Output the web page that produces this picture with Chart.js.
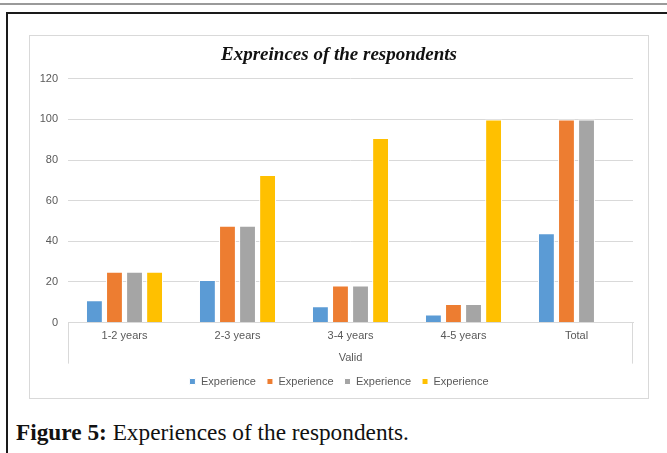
<!DOCTYPE html>
<html>
<head>
<meta charset="utf-8">
<script src="https://cdn.jsdelivr.net/npm/chart.js@4"></script>
<style>
  html, body { margin: 0; padding: 0; background: #fff; width: 667px; height: 453px; overflow: hidden; }
  .rule { position: absolute; left: 0; top: 3px; width: 667px; height: 2px; background: #9a9a9a; }
  .frame { position: absolute; left: 6px; top: 12px; width: 700px; height: 500px; border: 2px solid #1a1a1a; box-sizing: border-box; }
  .chartbox { position: absolute; left: 29px; top: 35px; width: 620px; height: 364px; border: 1px solid #d9d9d9; box-sizing: border-box; }
  .chartbox canvas { position: absolute; left: 0; top: 0; }
  .caption { position: absolute; left: 16px; top: 419px; font-family: "Liberation Serif", "DejaVu Serif", serif; font-size: 23.3px; color: #111; white-space: nowrap; }
  .caption b { font-weight: bold; }
</style>
</head>
<body>
<div class="rule"></div>
<div class="frame"></div>
<div class="chartbox"><canvas id="c" width="618" height="362"></canvas></div>
<div class="caption"><b>Figure 5:</b> Experiences of the respondents.</div>
<script>
// Experience groups and the four measures reported for each
const categories = ["1-2 years", "2-3 years", "3-4 years", "4-5 years", "Total"];
const frequency = [11, 21, 8, 4, 44];
const percent = [25, 47.7, 18.2, 9.1, 100];
const validPercent = [25, 47.7, 18.2, 9.1, 100];
const cumulativePercent = [25, 72.7, 90.9, 100, null];
const seriesNames = ["Experience", "Experience", "Experience", "Experience"];
const yTicks = [0, 20, 40, 60, 80, 100, 120];

const colors = ["#5B9BD5", "#ED7D31", "#A5A5A5", "#FFC000"];
const seriesValues = [frequency, percent, validPercent, cumulativePercent];
const axisFont = { family: "Liberation Sans", size: 11 };

// Outer ticks of the category axis: vertical lines at both ends below the plot
const axisBoxPlugin = {
  id: "axisBox",
  afterDraw(chart) {
    const { ctx, chartArea } = chart;
    ctx.save();
    ctx.strokeStyle = "#d9d9d9";
    ctx.lineWidth = 1;
    ctx.beginPath();
    const l = Math.round(chartArea.left) + 0.5, r = Math.round(chartArea.right) - 0.5;
    const b = chartArea.bottom, d = b + 41;
    ctx.moveTo(l, b); ctx.lineTo(l, d);
    ctx.moveTo(r, b); ctx.lineTo(r, d);
    ctx.stroke();
    ctx.restore();
  }
};

new Chart(document.getElementById("c"), {
  type: "bar",
  data: {
    labels: categories,
    datasets: seriesValues.map((vals, i) => ({
      label: seriesNames[i],
      data: vals,
      backgroundColor: colors[i],
      borderColor: "#ffffff",
      borderWidth: 1,
      categoryPercentage: 0.71,
      barPercentage: 0.84
    }))
  },
  options: {
    responsive: false,
    animation: false,
    layout: { padding: { left: 0, right: 0, top: 6, bottom: 1 } },
    plugins: {
      title: {
        display: true,
        text: "Expreinces of the respondents",
        font: { family: "Liberation Serif", size: 19, weight: "bold", style: "italic" },
        color: "#111",
        padding: { top: 2, bottom: 12 }
      },
      legend: {
        position: "bottom",
        labels: {
          boxWidth: 6, boxHeight: 6,
          font: axisFont,
          color: "#595959",
          padding: 11
        }
      },
      tooltip: { enabled: false }
    },
    scales: {
      x: {
        grid: { display: false, drawTicks: false },
        border: { display: true, color: "#d9d9d9" },
        ticks: { color: "#595959", font: axisFont, padding: 7 },
        title: { display: true, text: "Valid", color: "#595959", font: axisFont, padding: { top: 2, bottom: 0 } }
      },
      y: {
        min: 0, max: 120,
        afterBuildTicks(scale) { scale.ticks = yTicks.map(v => ({ value: v })); },
        afterFit(scale) { scale.width = 38; },
        grid: { color: "#d9d9d9", drawTicks: false },
        border: { display: false },
        ticks: { color: "#595959", font: axisFont, padding: 10 }
      },
      // empty right-hand margin of the plot
      yRight: {
        type: "linear",
        position: "right",
        min: 0, max: 120,
        afterFit(scale) { scale.width = 15; },
        grid: { display: false, drawTicks: false },
        border: { display: false },
        ticks: { display: false }
      }
    }
  },
  plugins: [axisBoxPlugin]
});
</script>
</body>
</html>
